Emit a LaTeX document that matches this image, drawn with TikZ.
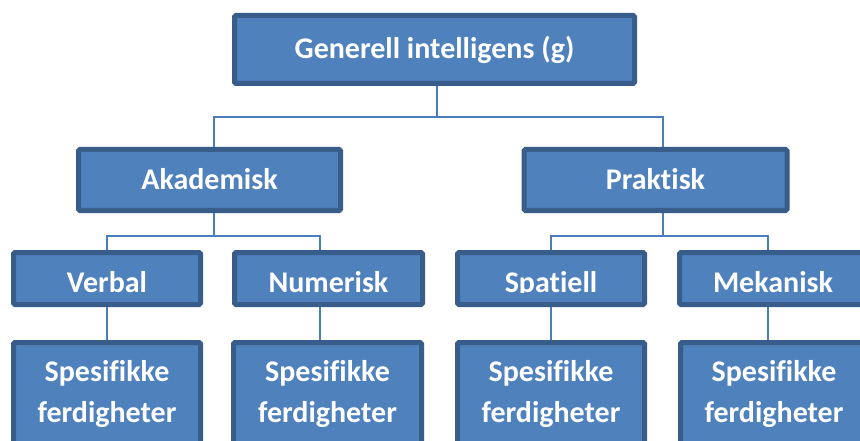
\documentclass[tikz,border=0pt]{standalone}
\usepackage{fontspec}
\setmainfont[Ligatures=NoCommon]{Carlito}
\usetikzlibrary{calc}
\definecolor{boxfill}{HTML}{4F81BD}
\definecolor{boxline}{HTML}{385D8A}
\definecolor{connc}{HTML}{4A7EBB}
\pgfdeclarelayer{bg}
\pgfsetlayers{bg,main}
\begin{document}
\begin{tikzpicture}[x=1pt,y=-1pt,
  lbl/.style={inner sep=0pt, text=white, font=\fontsize{30}{36}\selectfont\bfseries, text height=19pt, text depth=0pt},
  box/.style={lbl, draw=boxline, fill=boxfill, line width=5pt, rounded corners=1.5pt},
  conline/.style={draw=connc, line width=2pt}]
\clip (0,0) rectangle (860,441);
% level 1
\node[box, minimum width=400pt, minimum height=68pt] (g) at (434.5,49.5) {Generell intelligens (g)};
% level 2
\node[box, minimum width=262pt, minimum height=61pt] (aka) at (209.5,180) {Akademisk};
\node[box, minimum width=263pt, minimum height=61pt] (pra) at (655.5,180) {Praktisk};
% level 3
\node[box, minimum width=187pt, minimum height=52pt] (verb) at (107,278.5) {\raisebox{-4pt}{Verbal}};
\node[box, minimum width=188pt, minimum height=52pt] (num) at (328.5,278.5) {\raisebox{-4pt}{Numerisk}};
\node[box, minimum width=187pt, minimum height=52pt] (spa) at (551,278.5) {};
\begin{scope}
  \clip (455,250) rectangle (647,292.5);
  \node[lbl] (spat) at (551,278.5) {\raisebox{-4pt}{Spatiell}};
\end{scope}
\node[box, minimum width=187pt, minimum height=52pt] (mek) at (773,278.5) {\raisebox{-4pt}{Mekanisk}};
% level 4
\node[box, minimum width=187pt, minimum height=115pt] (sp1) at (107,400) {};
\node[box, minimum width=188pt, minimum height=115pt] (sp2) at (327.5,400) {};
\node[box, minimum width=187pt, minimum height=115pt] (sp3) at (551,400) {};
\node[box, minimum width=187pt, minimum height=115pt] (sp4) at (774,400) {};
\foreach \n/\x in {1/107,2/327.5,3/551,4/774}{
  \node[lbl, anchor=base] (s\n a) at (\x,381) {Spesifikke};
  \node[lbl, anchor=base] (s\n b) at (\x,422) {ferdigheter};
}
% connectors
\coordinate (bg) at (437,117);
\coordinate (ba) at (214,236);
\coordinate (bp) at (663,236);
\coordinate (xn) at (320,0);
\coordinate (xm) at (768,0);
\begin{pgfonlayer}{bg}
\fill[white] (0,0) rectangle (860,441);
\draw[conline] (g.south -| bg) -- (bg);
\draw[conline] ($(aka.north)+(4,0)$) |- (bg) -| ($(pra.north)+(7.5,0)$);
\draw[conline] (aka.south -| ba) -- (ba);
\draw[conline] (verb.north) |- (ba) -| (num.north -| xn);
\draw[conline] (pra.south -| bp) -- (bp);
\draw[conline] (spa.north) |- (bp) -| (mek.north -| xm);
\draw[conline] (verb.south) -- (sp1.north);
\draw[conline] (num.south -| xn) -- (sp2.north -| xn);
\draw[conline] (spa.south) -- (sp3.north);
\draw[conline] (mek.south -| xm) -- (sp4.north -| xm);
\end{pgfonlayer}
\end{tikzpicture}
\end{document}
